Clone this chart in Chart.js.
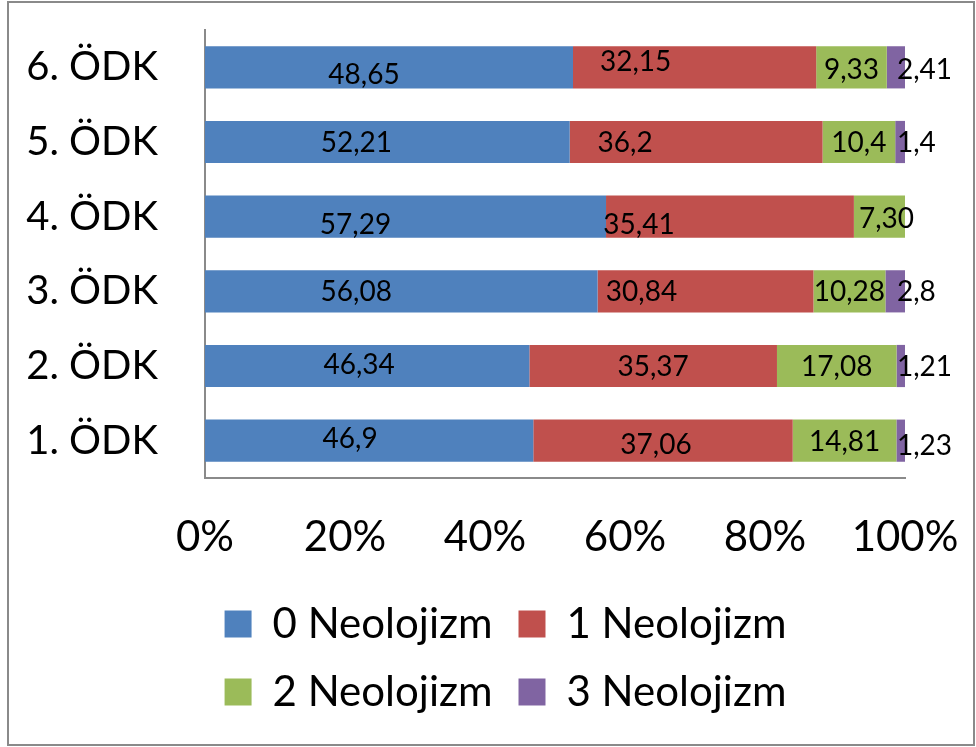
<!DOCTYPE html>
<html>
<head>
<meta charset="utf-8">
<script src="https://cdn.jsdelivr.net/npm/chart.js@4.4.1/dist/chart.umd.min.js"></script>
<style>
  html, body { margin: 0; padding: 0; background: #ffffff; }
  #wrap { width: 976px; height: 747px; position: relative; }
  canvas { display: block; }
</style>
</head>
<body>
<div id="wrap"><canvas id="c" width="976" height="747"></canvas></div>
<script>
// ---- data (values as printed on the chart, Turkish decimal comma) ----
const categories = ['6. ÖDK', '5. ÖDK', '4. ÖDK', '3. ÖDK', '2. ÖDK', '1. ÖDK'];
const seriesNames = ['0 Neolojizm', '1 Neolojizm', '2 Neolojizm', '3 Neolojizm'];
const neo0 = ['48,65', '52,21', '57,29', '56,08', '46,34', '46,9'];
const neo1 = ['32,15', '36,2', '35,41', '30,84', '35,37', '37,06'];
const neo2 = ['9,33', '10,4', '7,30', '10,28', '17,08', '14,81'];
const neo3 = ['2,41', '1,4', '0', '2,8', '1,21', '1,23'];
const xTickLabels = ['0%', '20%', '40%', '60%', '80%', '100%'];

// ---- styling ----
const seriesColors = ['#4F81BD', '#C0504D', '#9BBB59', '#8064A2'];
const FONT = 'Lato, "Open Sans", sans-serif';
// label nudges [dx, dy] in px (manual label placement in the original)
const labelNudge = [
  [[-25, 8], [-31, 1], [-50, 8], [-45, 1], [-8, -1], [-19, -2]],
  [[-59, -5], [-71, 1], [-91, 8], [-64, 1], [0, 1], [-7, 4]],
  [[0, 3], [0, 1], [7, 2], [0, 1], [0, 1], [0, 1]],
  [[0, 3], [0, 1], [0, 0], [0, 1], [0, 1], [0, 5]]
];

const series = [neo0, neo1, neo2, neo3];
const num = s => parseFloat(String(s).replace(',', '.'));
const totals = categories.map((_, i) => series.reduce((a, s) => a + num(s[i]), 0));

const framePlugin = {
  id: 'frame',
  beforeDraw(chart) {
    const ctx = chart.ctx;
    ctx.save();
    ctx.fillStyle = '#ffffff';
    ctx.fillRect(0, 0, chart.width, chart.height);
    ctx.strokeStyle = '#8a8a8a';
    ctx.lineWidth = 2;
    ctx.strokeRect(8, 2, chart.width - 10, chart.height - 4);
    ctx.restore();
  }
};

const labelPlugin = {
  id: 'valueLabels',
  afterDatasetsDraw(chart) {
    const ctx = chart.ctx;
    ctx.save();
    ctx.font = '28px ' + FONT;
    ctx.fillStyle = '#000000';
    ctx.textBaseline = 'middle';
    chart.data.datasets.forEach((ds, k) => {
      const meta = chart.getDatasetMeta(k);
      meta.data.forEach((bar, i) => {
        const txt = series[k][i];
        if (num(txt) === 0) return;
        const p = bar.getProps(['x', 'y', 'base'], true);
        const [dx, dy] = labelNudge[k][i];
        if (k === 3) {
          ctx.textAlign = 'left';
          ctx.fillText(txt, p.x - 8 + dx, p.y + dy);
        } else {
          ctx.textAlign = 'center';
          ctx.fillText(txt, (p.x + p.base) / 2 + dx, p.y + dy);
        }
      });
    });
    ctx.restore();
  }
};

new Chart(document.getElementById('c').getContext('2d'), {
  type: 'bar',
  data: {
    labels: categories,
    datasets: series.map((s, k) => ({
      label: seriesNames[k],
      data: s.map((v, i) => num(v) / totals[i] * 100),
      backgroundColor: seriesColors[k],
      borderWidth: 0,
      categoryPercentage: 1,
      barPercentage: 0.565
    }))
  },
  options: {
    indexAxis: 'y',
    responsive: false,
    animation: false,
    devicePixelRatio: 1,
    layout: { padding: { left: 106, right: 71, top: 30, bottom: 24 } },
    scales: {
      x: {
        stacked: true,
        min: 0,
        max: 100,
        ticks: {
          stepSize: 20,
          autoSkip: false,
          maxRotation: 0,
          callback: (v, i) => xTickLabels[i],
          font: { family: FONT, size: 42 },
          color: '#000000',
          padding: 34
        },
        grid: { display: false, drawTicks: false },
        border: { display: true, color: '#8a8a8a', width: 2 },
        afterFit: s => { s.height = 99; s.paddingLeft = 0; s.paddingRight = 0; }
      },
      y: {
        stacked: true,
        ticks: {
          font: { family: FONT, size: 40 },
          color: '#000000',
          padding: 47
        },
        grid: { display: false, drawTicks: false },
        border: { display: true, color: '#8a8a8a', width: 2 },
        afterFit: s => {
          s.width = 99;
          s.paddingTop = 0;
          s.paddingBottom = 0;
          s._computeLabelArea = () => undefined; // let long category labels extend left
        }
      }
    },
    plugins: {
      legend: {
        position: 'bottom',
        labels: {
          boxWidth: 27,
          boxHeight: 27,
          padding: 26,
          color: '#000000',
          font: { family: FONT, size: 42 }
        }
      },
      tooltip: { enabled: false }
    }
  },
  plugins: [framePlugin, labelPlugin]
});
</script>
</body>
</html>
